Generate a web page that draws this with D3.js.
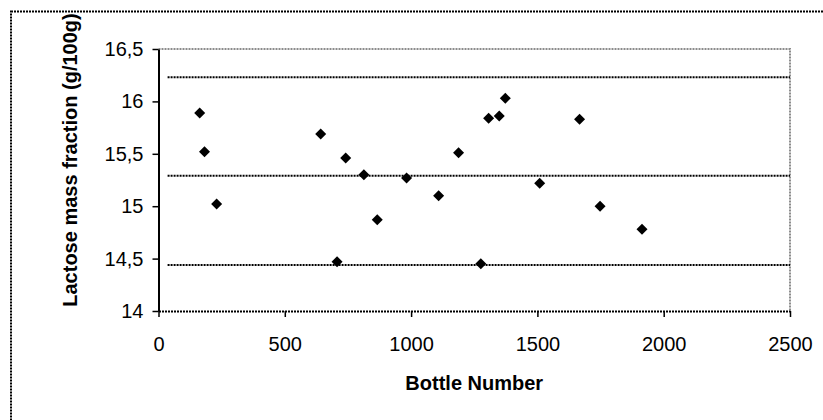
<!DOCTYPE html>
<html>
<head>
<meta charset="utf-8">
<script src="https://cdn.jsdelivr.net/npm/d3@7"></script>
<style>
  body { margin: 0; background: #fff; }
  text { font-family: Arial, "Liberation Sans", sans-serif; fill: #000; }
</style>
</head>
<body>
<div id="chart"></div>
<script>
// bottle number and lactose content
const bottles = [163, 182, 230, 642, 707, 741, 813, 866, 982, 1109, 1188, 1276, 1307, 1349, 1373, 1509, 1667, 1748, 1914];
const lactose = [15.89, 15.52, 15.02, 15.69, 14.47, 15.46, 15.30, 14.87, 15.27, 15.10, 15.51, 14.45, 15.84, 15.86, 16.03, 15.22, 15.83, 15.00, 14.78];

// mean and limit lines
const refLines = [16.23, 15.29, 14.44];
const refStart = 36;

const xTicks = [0, 500, 1000, 1500, 2000, 2500];
const yTicks = [14, 14.5, 15, 15.5, 16, 16.5];

const xTitle = "Bottle Number";
const yTitle = "Lactose mass fraction (g/100g)";

const width = 823, height = 420;
const margin = {top: 49, right: 33, bottom: 109, left: 158.5};

const locale = d3.formatLocale({decimal: ",", thousands: "", grouping: [3], currency: ["", ""]});
const fmt = locale.format("~g");

const data = bottles.map((b, i) => ({x: b, y: lactose[i]}));

const x = d3.scaleLinear()
    .domain([0, 2500])
    .range([margin.left, width - margin.right]);

const y = d3.scaleLinear()
    .domain([14, 16.5])
    .range([height - margin.bottom, margin.top]);

const svg = d3.select("#chart").append("svg")
    .attr("width", width)
    .attr("height", height);

svg.append("rect")
    .attr("width", width)
    .attr("height", height)
    .attr("fill", "#fff");

// chart border, runs off the right and bottom of the picture
svg.append("rect")
    .attr("x", 11)
    .attr("y", 11.5)
    .attr("width", width + 20)
    .attr("height", height + 20)
    .attr("fill", "none")
    .attr("stroke", "#000")
    .attr("stroke-width", 2)
    .attr("stroke-dasharray", "2,1");

// plot area border (grey, dotted)
svg.append("path")
    .attr("d", `M${x(0)},${y(16.5)}H${x(2500)}V${y(14)}`)
    .attr("fill", "none")
    .attr("stroke", "#8c8c8c")
    .attr("stroke-width", 2)
    .attr("stroke-dasharray", "2,1");

// horizontal reference lines
svg.append("g")
  .selectAll("line")
  .data(refLines)
  .join("line")
    .attr("x1", x(refStart))
    .attr("x2", x(2500))
    .attr("y1", d => y(d))
    .attr("y2", d => y(d))
    .attr("stroke", "#000")
    .attr("stroke-width", 2)
    .attr("stroke-dasharray", "2,1");

// x axis
const xAxis = svg.append("g")
    .attr("transform", `translate(0,${y(14)})`)
    .call(d3.axisBottom(x).tickValues(xTicks).tickFormat(d3.format("d")).tickSize(6).tickPadding(20).tickSizeOuter(0));
xAxis.select(".domain")
    .attr("stroke-width", 2)
    .attr("stroke-dasharray", "2,1");
xAxis.selectAll(".tick line").attr("stroke-width", 1.5);
xAxis.selectAll(".tick text")
    .attr("font-size", 20)
    .attr("font-family", "Arial, 'Liberation Sans', sans-serif");

// y axis
const yAxis = svg.append("g")
    .attr("transform", `translate(${x(0)},0)`)
    .call(d3.axisLeft(y).tickValues(yTicks).tickFormat(fmt).tickSize(6).tickPadding(9).tickSizeOuter(0));
yAxis.select(".domain").attr("stroke-width", 2);
yAxis.selectAll(".tick line").attr("stroke-width", 1.5);
yAxis.selectAll(".tick text")
    .attr("font-size", 20)
    .attr("font-family", "Arial, 'Liberation Sans', sans-serif");

// points as square diamonds
svg.append("g")
  .selectAll("path")
  .data(data)
  .join("path")
    .attr("transform", d => `translate(${x(d.x)},${y(d.y)})`)
    .attr("d", "M0,-5.5L5.5,0L0,5.5L-5.5,0Z")
    .attr("fill", "#000");

// axis titles
svg.append("text")
    .attr("x", (x(0) + x(2500)) / 2)
    .attr("y", 390)
    .attr("text-anchor", "middle")
    .attr("font-weight", "bold")
    .attr("font-size", 20)
    .text(xTitle);

svg.append("text")
    .attr("transform", `translate(77,160) rotate(-90)`)
    .attr("text-anchor", "middle")
    .attr("font-weight", "bold")
    .attr("font-size", 20)
    .text(yTitle);
</script>
</body>
</html>
